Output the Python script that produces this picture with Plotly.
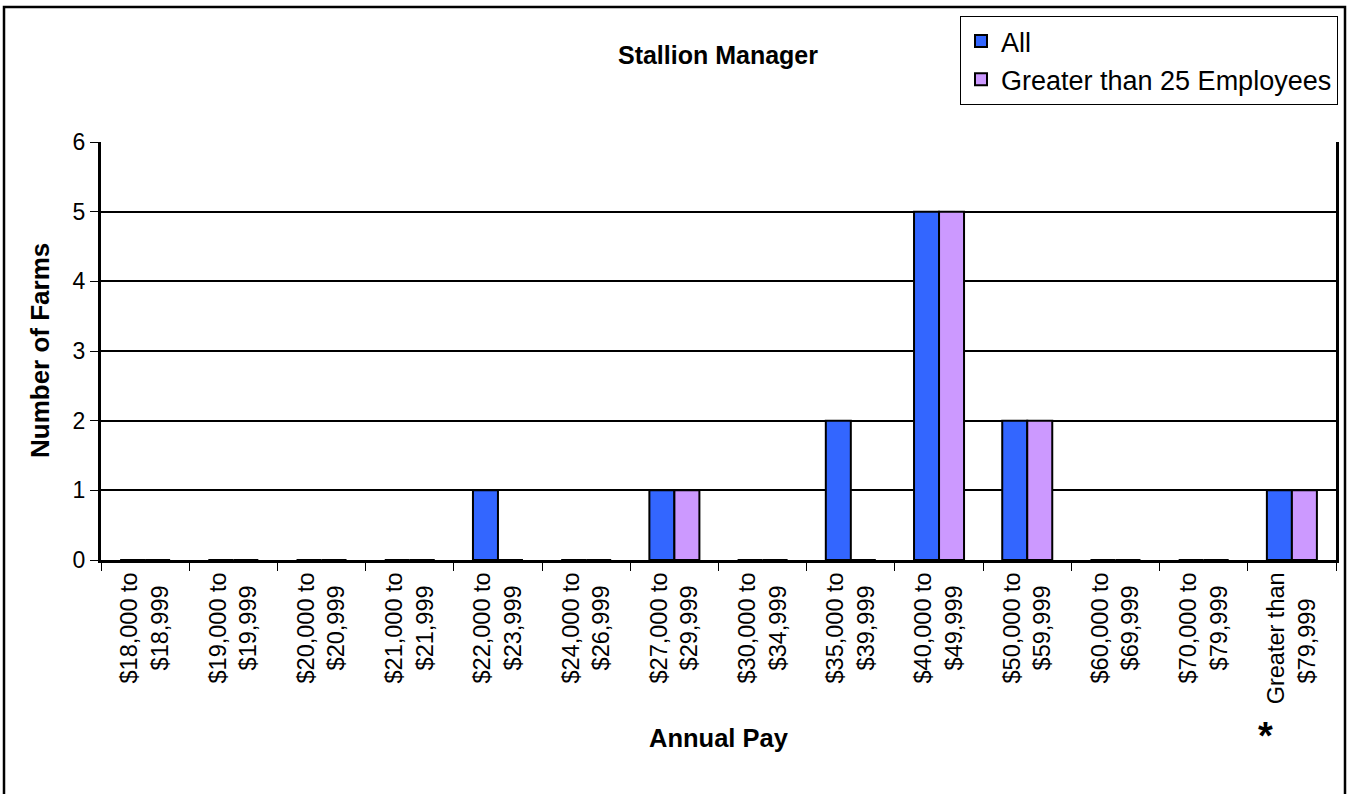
import plotly.graph_objects as go

categories = ["$18,000 to", "$19,000 to", "$20,000 to", "$21,000 to", "$22,000 to",
              "$24,000 to", "$27,000 to", "$30,000 to", "$35,000 to", "$40,000 to",
              "$50,000 to", "$60,000 to", "$70,000 to", "Greater than"]
categories_2 = ["$18,999", "$19,999", "$20,999", "$21,999", "$23,999",
                "$26,999", "$29,999", "$34,999", "$39,999", "$49,999",
                "$59,999", "$69,999", "$79,999", "$79,999"]
all_vals = [0, 0, 0, 0, 1, 0, 1, 0, 2, 5, 2, 0, 0, 1]
gt25_vals = [0, 0, 0, 0, 0, 0, 1, 0, 0, 5, 2, 0, 0, 1]

W, H = 1359, 794
L, R, T, B = 101, 1336, 142, 560

def px(x):
    return (x - L) / (R - L)

def py(y):
    return (B - y) / (B - T)

ids = list(range(len(categories)))
ticktext = []
for a, b in zip(categories, categories_2):
    pad = "\u00a0" * (4 if a.startswith("Greater") else 2)
    ticktext.append(a + "<br>" + b + pad)

fig = go.Figure()
fig.add_trace(go.Bar(x=ids, y=all_vals, name="All",
                     marker=dict(color="#3366FF", line=dict(color="black", width=2))))
fig.add_trace(go.Bar(x=ids, y=gt25_vals, name="Greater than 25 Employees",
                     marker=dict(color="#CC99FF", line=dict(color="black", width=2))))

font_family = "Liberation Sans, Arial, sans-serif"

fig.update_layout(
    width=W, height=H,
    margin=dict(l=L, r=W - R, t=T, b=H - B),
    paper_bgcolor="white", plot_bgcolor="white",
    font=dict(family=font_family, color="black", size=23),
    barmode="group", bargap=0.433, bargroupgap=0,
    title=dict(text="<b>Stallion Manager</b>", x=718 / W,
               xanchor="center", y=1 - 55 / H, yanchor="middle",
               font=dict(size=25)),
    legend=dict(x=px(960), y=py(16), xanchor="left", yanchor="top",
                bordercolor="black", borderwidth=1, bgcolor="white",
                font=dict(size=27), tracegroupgap=0),
    showlegend=True,
)

fig.update_xaxes(
    type="linear", range=[-0.5, len(categories) - 0.5],
    tickmode="array", tickvals=ids, ticktext=ticktext, tickangle=-90,
    showgrid=False, showline=True, linecolor="black", linewidth=3,
    ticks="", zeroline=False, tickfont=dict(size=23.5), layer="above traces",
)
fig.update_xaxes(minor=dict(tickmode="array", tickvals=[i - 0.5 for i in range(len(categories) + 1)],
                            ticks="outside", ticklen=8, tickcolor="black", tickwidth=1, showgrid=False))

fig.update_yaxes(
    range=[0, 6], dtick=1, showgrid=True, gridcolor="black", gridwidth=2,
    showline=True, linecolor="black", linewidth=3, mirror=True,
    ticks="outside", ticklen=8, tickcolor="black", tickwidth=1,
    zeroline=False, tickfont=dict(size=23),
)

fig.add_annotation(text="<b>Number of Farms</b>", xref="paper", yref="paper",
                   x=px(40), y=0.5, textangle=-90, showarrow=False,
                   font=dict(size=26), xanchor="center", yanchor="middle")
fig.add_annotation(text="<b>Annual Pay</b>", xref="paper", yref="paper",
                   x=px(719), y=py(738), showarrow=False,
                   font=dict(size=25.5), xanchor="center", yanchor="middle")
fig.add_annotation(text="<b>*</b>", xref="paper", yref="paper",
                   x=px(1265), y=py(736), showarrow=False,
                   font=dict(size=38), xanchor="center", yanchor="middle")

fig.add_shape(type="rect", xref="paper", yref="paper",
              x0=px(4), x1=px(1345), y0=py(812), y1=py(7),
              line=dict(color="black", width=2.5), fillcolor="rgba(0,0,0,0)", layer="below")

fig.write_html("out.html", config={"displayModeBar": False},
               post_script="document.body.style.margin='0';document.body.style.overflow='hidden';")
